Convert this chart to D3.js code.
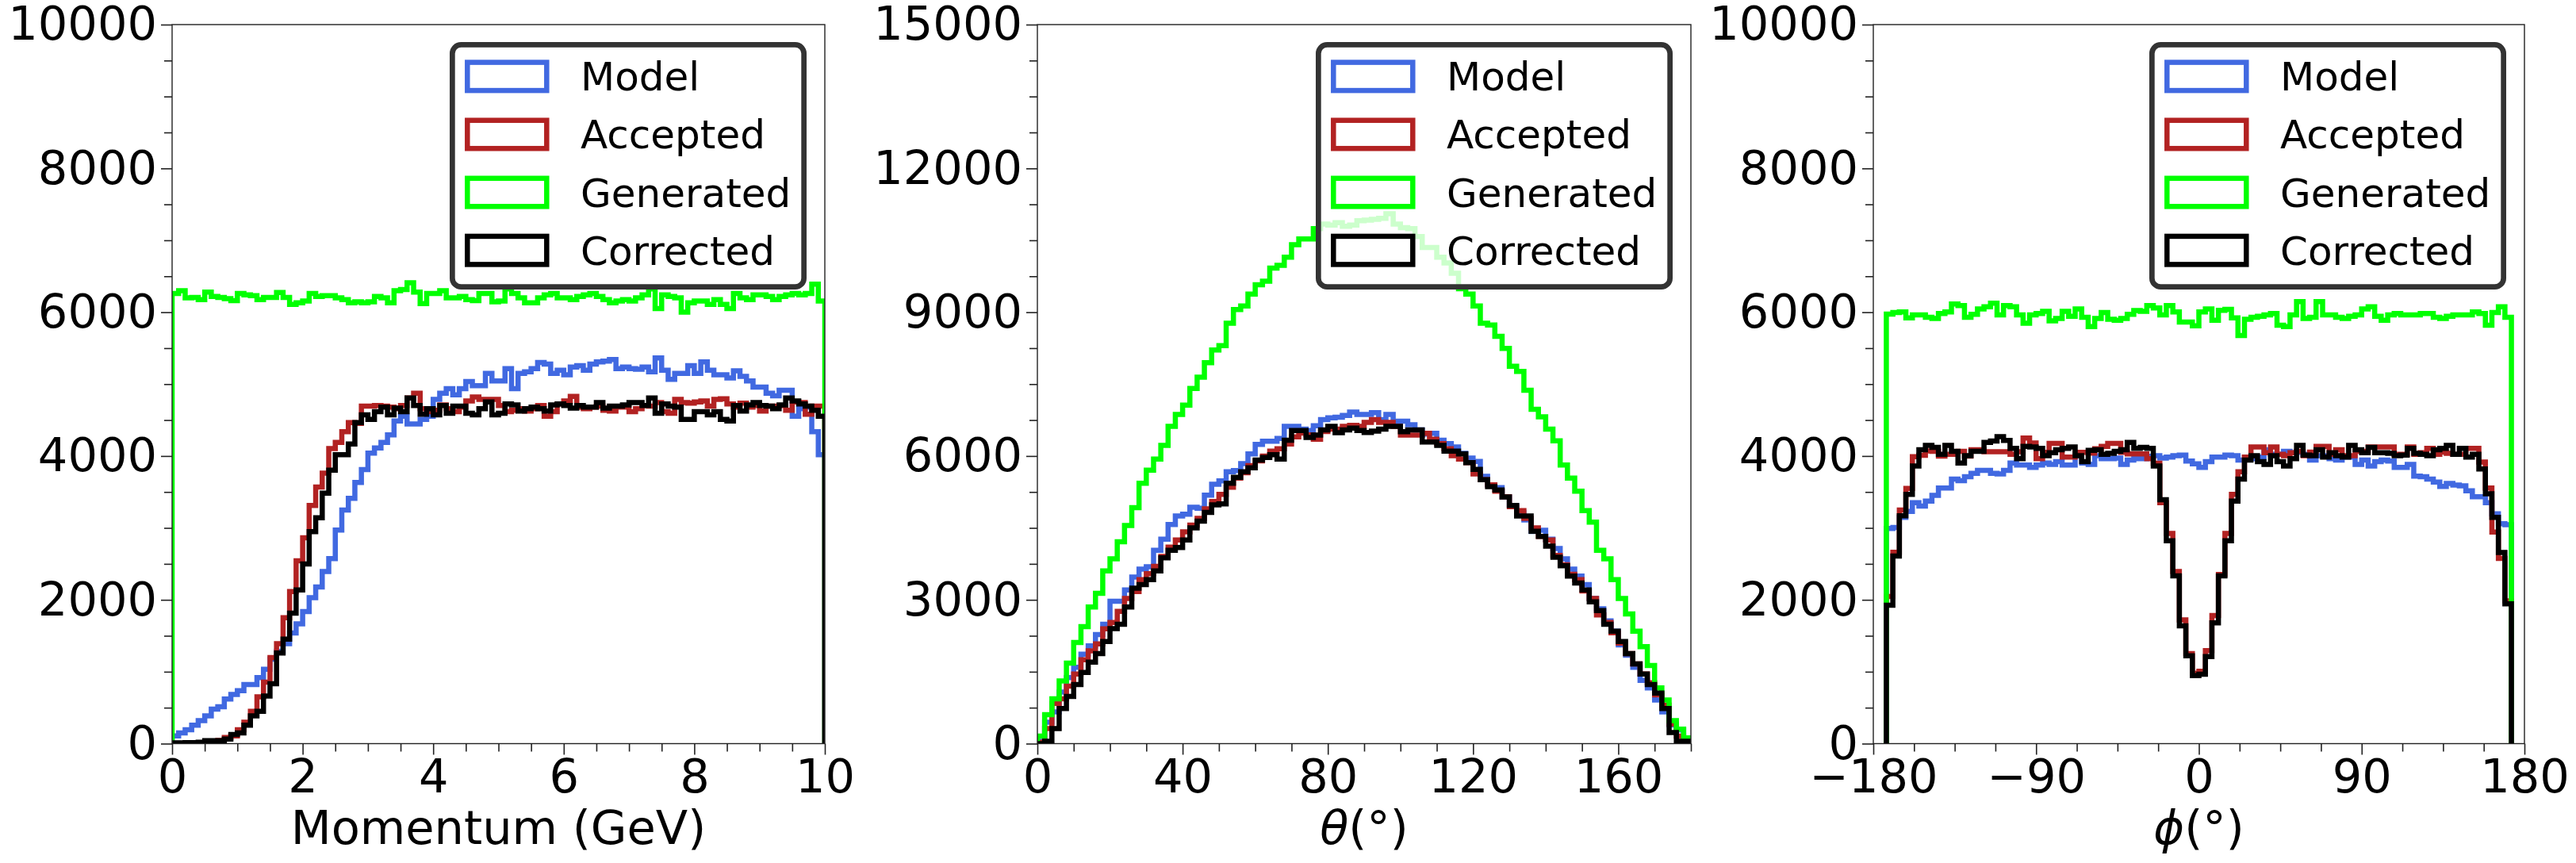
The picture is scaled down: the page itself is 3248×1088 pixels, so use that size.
<!DOCTYPE html>
<html><head><meta charset="utf-8">
<script src="https://cdn.jsdelivr.net/npm/d3@7"></script>
<style>body{margin:0;background:#fff}svg{display:block}</style>
</head><body>
<svg id="chart" width="3248" height="1088"></svg>
<script>
// ---------------- DATA ----------------
const seriesNames = ["Model", "Accepted", "Generated", "Corrected"];
const seriesColors = ["#4169E1", "#B22222", "#00FF00", "#000000"];

// Momentum (GeV): 100 bins of 0.1 from 0
const momentumBinStart = 0, momentumBinWidth = 0.1;
const momentumModel = [107,150,192,256,320,385,479,513,620,684,735,821,821,919,1034,1175,1282,1389,1539,1667,1838,2030,2180,2393,2573,2970,3248,3411,3633,3812,4039,4112,4189,4295,4488,4552,4445,4445,4509,4552,4787,4872,4936,4851,4936,5035,4979,4979,5150,5043,5043,5214,4936,5150,5171,5214,5300,5278,5150,5193,5129,5236,5257,5193,5278,5308,5321,5343,5214,5236,5214,5206,5236,5171,5364,5193,5065,5150,5150,5257,5150,5308,5193,5129,5129,5086,5184,5107,5043,4958,4958,4872,4838,4915,4915,4552,4659,4680,4338,4018];
const momentumAccepted = [0,0,5,10,15,20,30,43,85,107,192,299,449,650,855,1197,1389,1752,2116,2543,2864,3312,3569,3761,4103,4189,4338,4466,4453,4693,4693,4701,4693,4680,4659,4701,4808,4872,4659,4616,4637,4710,4659,4616,4680,4765,4821,4787,4787,4787,4701,4616,4637,4659,4625,4659,4701,4552,4616,4723,4765,4829,4680,4659,4680,4693,4637,4625,4680,4680,4616,4659,4701,4693,4744,4616,4595,4787,4744,4736,4753,4765,4693,4787,4795,4723,4680,4736,4680,4701,4625,4693,4693,4701,4637,4753,4744,4582,4693,4693];
const momentumGenerated = [6260,6300,6200,6205,6175,6280,6220,6205,6190,6160,6260,6240,6230,6175,6205,6205,6275,6205,6110,6130,6155,6260,6220,6230,6230,6200,6175,6130,6145,6130,6145,6220,6200,6130,6300,6315,6410,6280,6120,6260,6260,6300,6200,6200,6220,6175,6160,6260,6260,6145,6155,6325,6260,6200,6130,6130,6200,6240,6260,6200,6200,6175,6220,6240,6260,6220,6175,6130,6155,6175,6155,6200,6240,6325,6050,6240,6220,6200,6000,6130,6155,6155,6110,6175,6110,6050,6260,6200,6175,6240,6240,6220,6175,6220,6240,6260,6240,6260,6390,6155];
const momentumCorrected = [10,10,15,15,20,40,40,40,64,128,150,256,385,449,662,833,1261,1453,1816,2137,2500,2949,3141,3483,3804,4018,4018,4167,4466,4573,4509,4616,4680,4573,4667,4616,4808,4701,4582,4659,4573,4701,4595,4693,4693,4595,4573,4659,4753,4573,4595,4723,4710,4625,4659,4680,4659,4625,4710,4723,4701,4667,4701,4680,4680,4744,4667,4693,4693,4710,4744,4744,4701,4808,4595,4723,4693,4680,4509,4509,4616,4616,4573,4616,4509,4488,4701,4625,4710,4744,4701,4693,4659,4710,4808,4765,4723,4693,4637,4552];

// Theta (deg): 90 bins of 2 from 0
const thetaBinStart = 0, thetaBinWidth = 2;
const thetaModel = [50,445,660,1077,1378,1593,1866,2038,2275,2490,2971,2971,3208,3474,3639,3689,4033,4263,4572,4751,4787,4931,4909,5182,5411,5483,5670,5698,5842,6043,6244,6308,6308,6366,6617,6617,6560,6531,6631,6760,6796,6811,6847,6918,6868,6868,6904,6760,6868,6725,6725,6653,6545,6459,6474,6330,6258,6187,6057,5957,5885,5577,5397,5340,5146,4967,4823,4665,4428,4450,4263,4069,3854,3639,3495,3316,3029,2813,2562,2347,2060,1844,1593,1321,1163,911,660,388,287,50];
const thetaAccepted = [29,316,840,933,1199,1450,1751,1938,2081,2397,2526,2760,3029,3172,3420,3545,3700,3904,4100,4250,4420,4560,4700,4900,5050,5200,5350,5540,5650,5800,5900,6000,6100,6150,6250,6400,6480,6440,6350,6510,6560,6560,6617,6640,6617,6700,6760,6703,6703,6617,6438,6438,6438,6474,6350,6258,6151,6007,5935,5860,5627,5505,5400,5268,5150,4945,4859,4700,4500,4321,4249,3926,3732,3531,3423,3187,3029,2684,2526,2311,2096,1880,1665,1450,1270,1019,804,409,158,50];
const thetaGenerated = [158,603,933,1306,1679,2110,2440,2849,3136,3603,3854,4213,4550,4923,5433,5706,5935,6222,6617,6868,7062,7407,7643,7945,8210,8304,8770,9057,9129,9380,9574,9646,9919,9976,10148,10407,10529,10529,10744,10838,10816,10866,10794,10816,10910,10923,10938,10959,11052,10837,10765,10744,10579,10349,10349,10148,10026,9811,9488,9380,9129,8770,8734,8498,8246,7873,7765,7371,6976,6818,6560,6316,5813,5541,5268,4859,4622,4033,3854,3423,3029,2706,2347,2024,1629,1163,911,481,301,122];
const thetaCorrected = [0,50,315,732,983,1234,1486,1701,1880,2131,2400,2490,2850,3244,3316,3423,3603,3876,4033,4091,4249,4500,4643,4823,4981,5002,5433,5555,5670,5756,5914,5971,6029,5935,6330,6531,6531,6388,6438,6545,6617,6488,6545,6581,6531,6490,6520,6560,6617,6617,6509,6545,6545,6294,6294,6222,6100,6100,6043,5863,5720,5505,5361,5289,5146,4967,4751,4751,4430,4321,4120,3890,3710,3495,3352,3208,2957,2777,2490,2347,2131,1880,1665,1450,1234,1055,732,230,50,50];

// Phi (deg): 96 filled bins of 3.6 from -172.8
const phiBinStart = -172.8, phiBinWidth = 3.6;
const phiModel = [2993,3005,3148,3230,3352,3303,3373,3454,3556,3556,3678,3658,3711,3760,3801,3801,3760,3752,3801,3903,3874,3874,3841,3874,3903,3882,3923,3874,3874,4005,3903,3882,4005,3964,3964,3972,3882,3943,3964,3964,3997,4005,3972,3984,4005,4013,3931,3890,3841,3923,3984,3984,4013,4005,3943,3984,3964,3984,4086,4025,4025,4066,4045,4050,4025,3943,4005,4005,3964,3943,3984,3984,3882,3943,3862,3923,3943,3931,3841,3841,3882,3719,3711,3678,3638,3576,3617,3597,3584,3515,3434,3434,3352,3197,3059,3046];
const phiAccepted = [2047,2660,3250,3550,3990,4010,4070,4066,4000,4025,4025,4066,4000,4086,4086,4060,4060,4060,4060,4025,4060,4249,4180,3964,4050,4176,4176,3984,3984,4050,4050,4040,4100,4135,4176,4176,4050,4030,4030,4030,3964,3900,3352,2924,2394,1721,1252,980,1007,1293,1782,2353,2924,3466,3780,3984,4127,4127,4045,4127,4025,4005,4045,4066,4005,4054,4135,4135,4025,4086,4005,4005,4066,4066,4127,4127,4127,4127,4025,4025,4127,4025,4045,4107,4025,4054,4037,4025,4025,4107,4107,3915,3556,2944,2577,1986];
const phiGenerated = [5974,5995,6003,5921,5962,5962,5929,5913,5982,6003,6113,6093,5929,5970,6044,6076,6125,5962,6093,6076,5962,5848,5962,5982,6011,5880,5913,6011,5942,6044,5929,5799,5913,5995,5901,5889,5913,5970,6023,6011,6093,6060,5962,6093,6003,5864,5864,5811,6003,6044,5889,6027,6040,5921,5677,5901,5929,5942,5962,5982,5819,5799,5962,6146,5913,5929,6146,5962,5962,5929,5913,5942,5962,6044,6076,5942,5889,5962,5982,5962,5962,5962,5982,5982,5929,5913,5942,5962,5962,5962,6003,5982,5819,5995,6076,5929];
const phiCorrected = [1925,2610,3169,3466,3862,4086,4147,4119,4025,4147,4066,3903,4005,4066,4066,4188,4208,4270,4217,4107,3964,4135,4127,4107,4005,4045,4086,4107,4127,4005,3923,4078,4086,4025,4037,4066,4086,4188,4107,4119,4107,3862,3393,2822,2333,1639,1223,946,966,1211,1680,2333,2822,3372,3678,3943,4005,3923,3882,4005,3923,3862,3964,4147,4013,4005,4086,3984,4045,4005,3984,4147,4086,4045,4119,4045,4045,4037,4005,4013,4107,4037,4025,4005,4086,4107,4147,4025,4107,3984,4025,3821,3474,3148,2659,1945];

// Axis ticks
const momentumTicks = [0, 2, 4, 6, 8, 10];
const thetaTicks = [0, 40, 80, 120, 160];
const phiTicks = [-180, -90, 0, 90, 180];
const countTicks10k = [0, 2000, 4000, 6000, 8000, 10000];
const countTicks15k = [0, 3000, 6000, 9000, 12000, 15000];

// ---------------- LAYOUT ----------------
const TOP = 31, BOTTOM = 937.5;
const FONT = "DejaVu Sans, Verdana, sans-serif";
const TICK_FONT = 59;
const panels = [
  { left: 217, right: 1040, xDomain: [0, 10], yDomain: [0, 10000],
    xTicks: momentumTicks, xMinor: 0.5, yTicks: countTicks10k, yMinor: 500,
    binStart: momentumBinStart, binWidth: momentumBinWidth,
    series: [momentumModel, momentumAccepted, momentumGenerated, momentumCorrected],
    label: [{t: "Momentum (GeV)", italic: false}] },
  { left: 1308, right: 2132, xDomain: [0, 180], yDomain: [0, 15000],
    xTicks: thetaTicks, xMinor: 10, yTicks: countTicks15k, yMinor: 750,
    binStart: thetaBinStart, binWidth: thetaBinWidth,
    series: [thetaModel, thetaAccepted, thetaGenerated, thetaCorrected],
    label: [{t: "θ", italic: true}, {t: "(°)", italic: false}] },
  { left: 2362, right: 3183, xDomain: [-180, 180], yDomain: [0, 10000],
    xTicks: phiTicks, xMinor: 22.5, yTicks: countTicks10k, yMinor: 500,
    binStart: phiBinStart, binWidth: phiBinWidth,
    series: [phiModel, phiAccepted, phiGenerated, phiCorrected],
    label: [{t: "ϕ", italic: true}, {t: "(°)", italic: false}] }
];

const svg = d3.select("#chart");
const defs = svg.append("defs");
const LINE_W = 6.5;
const fmt = d3.format("d");

panels.forEach((p, pi) => {
  const x = d3.scaleLinear().domain(p.xDomain).range([p.left, p.right]);
  const y = d3.scaleLinear().domain(p.yDomain).range([BOTTOM, TOP]);
  const g = svg.append("g");

  defs.append("clipPath").attr("id", "clip" + pi)
    .append("rect").attr("x", p.left).attr("y", TOP)
    .attr("width", p.right - p.left).attr("height", BOTTOM - TOP);

  // step histograms
  const line = d3.line().x(d => x(d[0])).y(d => y(d[1]));
  const lg = g.append("g").attr("clip-path", `url(#clip${pi})`);
  p.series.forEach((vals, si) => {
    const pts = [[p.binStart, 0]];
    vals.forEach((v, i) => {
      const a = p.binStart + i * p.binWidth, b = p.binStart + (i + 1) * p.binWidth;
      pts.push([a, v]); pts.push([b, v]);
    });
    pts.push([p.binStart + vals.length * p.binWidth, 0]);
    lg.append("path").attr("d", line(pts))
      .attr("fill", "none").attr("stroke", seriesColors[si])
      .attr("stroke-width", LINE_W).attr("stroke-linejoin", "miter")
      .attr("stroke-linecap", "butt");
  });

  // ticks
  const eps = 1e-9;
  const xMinorVals = d3.range(p.xDomain[0], p.xDomain[1] + eps, p.xMinor)
    .filter(v => !p.xTicks.some(t => Math.abs(t - v) < 1e-6));
  const yMinorVals = d3.range(p.yDomain[0], p.yDomain[1] + eps, p.yMinor)
    .filter(v => !p.yTicks.some(t => Math.abs(t - v) < 1e-6));

  const xMinorAxis = d3.axisBottom(x).tickValues(xMinorVals).tickFormat("").tickSize(10).tickSizeOuter(0);
  const yMinorAxis = d3.axisLeft(y).tickValues(yMinorVals).tickFormat("").tickSize(10).tickSizeOuter(0);
  const xAxis = d3.axisBottom(x).tickValues(p.xTicks).tickFormat(fmt).tickSize(14).tickPadding(6).tickSizeOuter(0);
  const yAxis = d3.axisLeft(y).tickValues(p.yTicks).tickFormat(fmt).tickSize(14).tickPadding(5).tickSizeOuter(0);

  [xMinorAxis, xAxis].forEach(ax => {
    const a = g.append("g").attr("transform", `translate(0,${BOTTOM})`).call(ax);
    a.select(".domain").remove();
    a.selectAll("line").attr("stroke", "#222").attr("stroke-width", 1.6);
    a.selectAll("text").attr("font-family", FONT).attr("font-size", TICK_FONT).attr("fill", "#000");
  });
  [yMinorAxis, yAxis].forEach(ax => {
    const a = g.append("g").attr("transform", `translate(${p.left},0)`).call(ax);
    a.select(".domain").remove();
    a.selectAll("line").attr("stroke", "#222").attr("stroke-width", 1.6);
    a.selectAll("text").attr("font-family", FONT).attr("font-size", TICK_FONT).attr("fill", "#000");
  });

  // spines
  g.append("rect").attr("x", p.left).attr("y", TOP)
    .attr("width", p.right - p.left).attr("height", BOTTOM - TOP)
    .attr("fill", "none").attr("stroke", "#222").attr("stroke-width", 1.4);

  // x label
  const lab = g.append("text").attr("x", (p.left + p.right) / 2).attr("y", 1064)
    .attr("text-anchor", "middle").attr("font-family", FONT).attr("font-size", 59).attr("fill", "#000");
  p.label.forEach(s => lab.append("tspan").text(s.t).attr("font-style", s.italic ? "italic" : "normal"));

  // legend
  const boxW = 450, boxH = 312;
  const bx = p.right - 23 - boxW, by = 53;
  const leg = g.append("g");
  leg.append("rect").attr("x", bx + 3.35).attr("y", by + 3.35)
    .attr("width", boxW - 6.7).attr("height", boxH - 6.7).attr("rx", 11).attr("ry", 11)
    .attr("fill", "#fff").attr("fill-opacity", 0.8)
    .attr("stroke", "#333").attr("stroke-width", 6.7);
  seriesNames.forEach((name, si) => {
    const ry = by + 25.6 + si * 73.1;
    leg.append("rect").attr("x", bx + 22.3).attr("y", ry)
      .attr("width", 100).attr("height", 35.5)
      .attr("fill", "none").attr("stroke", seriesColors[si]).attr("stroke-width", LINE_W);
    leg.append("text").attr("x", bx + 165).attr("y", by + 61.3 + si * 73.1)
      .attr("font-family", FONT).attr("font-size", 50).attr("fill", "#000").text(name);
  });
});
</script>
</body></html>
